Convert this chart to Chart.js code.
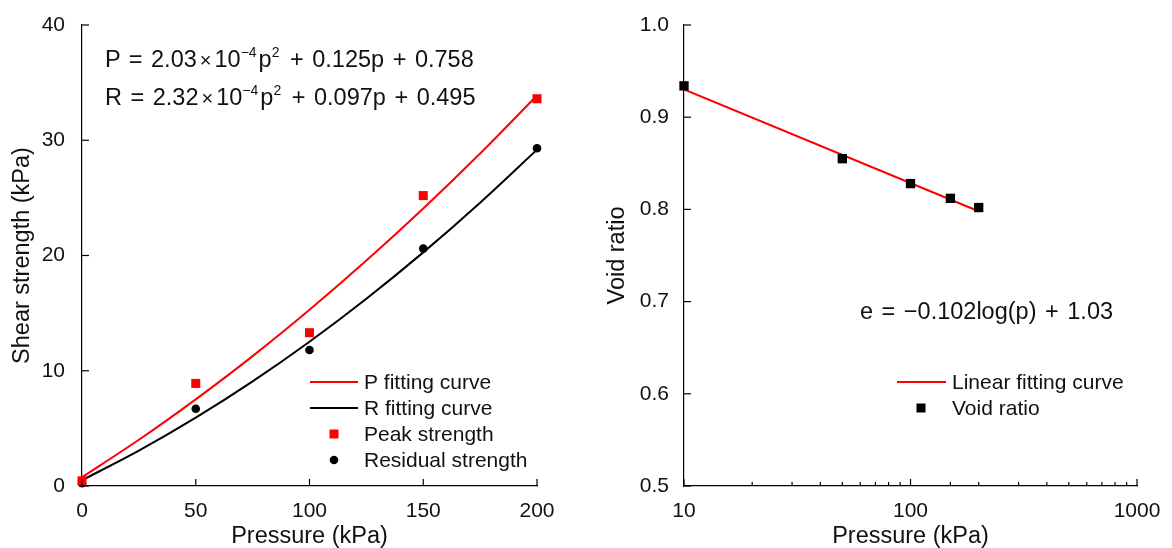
<!DOCTYPE html>
<html lang="en">
<head>
<meta charset="UTF-8">
<title>Shear strength and void ratio</title>
<script src="https://cdn.jsdelivr.net/npm/chart.js"></script>
<style>
    body {
        margin: 0;
        background: #fff;
        font-family: 'Liberation Sans', Arial, sans-serif;
        color: #000;
    }
    #wrap {
        position: relative;
        width: 1172px;
        height: 548px;
        overflow: hidden;
    }
    canvas { position: absolute; top: 0; }
    #leftChart { left: 0; }
    #rightChart { left: 580px; }
    .eq {
        position: absolute;
        font-size: 23.5px;
        line-height: 28px;
        white-space: nowrap;
        color: #111;
    }
    .eq .op { margin: 0 2px; }
    .eq .x { margin: 0 3px; font-size: 20px; }
    .eq sup { font-size: 14px; vertical-align: 10px; line-height: 0; margin-right: 2px; }
</style>
</head>
<body>
<div id="wrap">
    <canvas id="leftChart" width="580" height="548"></canvas>
    <canvas id="rightChart" width="592" height="548"></canvas>
    <div class="eq" style="left:105px; top:45px;">P <span class="op">=</span> 2.03<span class="x">&times;</span>10<sup>&minus;4</sup>p<sup>2</sup> <span class="op">+</span> 0.125p <span class="op">+</span> 0.758</div>
    <div class="eq" style="left:105px; top:83px;">R <span class="op">=</span> 2.32<span class="x">&times;</span>10<sup>&minus;4</sup>p<sup>2</sup> <span class="op">+</span> 0.097p <span class="op">+</span> 0.495</div>
    <div class="eq" style="left:860px; top:297px;">e <span class="op">=</span> &minus;0.102log(p) <span class="op">+</span> 1.03</div>
</div>
<script>
    // left panel: shear strength
    const pressure = [0, 50, 100, 150, 200];
    const peakStrength = [0.45, 8.9, 13.3, 25.2, 33.6];
    const residualStrength = [0.25, 6.7, 11.8, 20.6, 29.3];
    // fitting curves at 25 kPa steps
    const fitPressure = [0, 25, 50, 75, 100, 125, 150, 175, 200];
    const pFit = [0.76, 4.01, 7.52, 11.27, 15.29, 19.56, 24.08, 28.85, 33.88];
    const rFit = [0.50, 3.07, 5.93, 9.08, 12.52, 16.25, 20.27, 24.58, 29.18];
    const leftLegend = ['P fitting curve', 'R fitting curve', 'Peak strength', 'Residual strength'];

    // right panel: void ratio
    const voidPressure = [10, 50, 100, 150, 200];
    const voidRatio = [0.934, 0.855, 0.828, 0.812, 0.802];
    const linePressure = [10, 200];
    const lineVoid = [0.930, 0.798];
    const rightLegend = ['Linear fitting curve', 'Void ratio'];

    const FONT = "'Liberation Sans', Arial, sans-serif";
    const RED = '#ff0000';

    function pts(xs, ys) {
        return xs.map((x, i) => ({ x: x, y: ys[i] }));
    }

    // inward tick marks, drawn from the library's own tick positions
    const innerTicks = {
        id: 'innerTicks',
        afterDraw(chart) {
            const ctx = chart.ctx;
            const area = chart.chartArea;
            ctx.save();
            ctx.strokeStyle = '#000';
            ctx.lineWidth = 1.2;
            ['x', 'y'].forEach(id => {
                const s = chart.scales[id];
                s.ticks.forEach(t => {
                    const major = t.label !== '' && t.label !== undefined;
                    const len = major ? 7 : 4;
                    const p = s.getPixelForValue(t.value);
                    ctx.beginPath();
                    if (id === 'x') {
                        ctx.moveTo(p, area.bottom);
                        ctx.lineTo(p, area.bottom - len);
                    } else {
                        ctx.moveTo(area.left, p);
                        ctx.lineTo(area.left + len, p);
                    }
                    ctx.stroke();
                });
            });
            ctx.restore();
        }
    };

    function legendPlugin(items) {
        return {
            id: 'legendBox',
            afterDraw(chart) {
                const ctx = chart.ctx;
                ctx.save();
                ctx.font = '21px ' + FONT;
                ctx.textBaseline = 'middle';
                items.forEach(it => {
                    if (it.kind === 'line') {
                        ctx.strokeStyle = it.color;
                        ctx.lineWidth = 2;
                        ctx.beginPath();
                        ctx.moveTo(it.x0, it.y);
                        ctx.lineTo(it.x1, it.y);
                        ctx.stroke();
                    } else if (it.kind === 'rect') {
                        ctx.fillStyle = it.color;
                        ctx.fillRect(it.cx - 4.5, it.y - 4.5, 9, 9);
                    } else {
                        ctx.fillStyle = it.color;
                        ctx.beginPath();
                        ctx.arc(it.cx, it.y, 4.3, 0, Math.PI * 2);
                        ctx.fill();
                    }
                    ctx.fillStyle = '#111';
                    ctx.fillText(it.text, it.tx, it.y + 1);
                });
                ctx.restore();
            }
        };
    }

    const tickFont = { family: FONT, size: 21 };
    const titleFont = { family: FONT, size: 23.5 };

    new Chart(document.getElementById('leftChart'), {
        type: 'scatter',
        data: {
            datasets: [
                { label: leftLegend[2], data: pts(pressure, peakStrength), pointStyle: 'rect',
                  pointRadius: 6.4, backgroundColor: RED, borderWidth: 0, order: 0, clip: false },
                { label: leftLegend[3], data: pts(pressure, residualStrength), pointStyle: 'circle',
                  pointRadius: 4.3, backgroundColor: '#000', borderWidth: 0, order: 0, clip: false },
                { label: leftLegend[0], type: 'line', data: pts(fitPressure, pFit), borderColor: RED,
                  borderWidth: 2, pointRadius: 0, cubicInterpolationMode: 'monotone', order: 1 },
                { label: leftLegend[1], type: 'line', data: pts(fitPressure, rFit), borderColor: '#000',
                  borderWidth: 2, pointRadius: 0, cubicInterpolationMode: 'monotone', order: 1 }
            ]
        },
        options: {
            responsive: false,
            animation: false,
            layout: { padding: { top: 25, right: 43, left: 0, bottom: 0 } },
            plugins: { legend: { display: false }, tooltip: { enabled: false } },
            scales: {
                x: {
                    type: 'linear', min: 0, max: 200,
                    ticks: { stepSize: 50, font: tickFont, color: '#111', padding: 5 },
                    grid: { display: false },
                    border: { color: '#000', width: 1.2 },
                    title: { display: true, text: 'Pressure (kPa)', font: titleFont, color: '#111',
                             padding: { top: 0, bottom: -3 } },
                    afterFit: s => { s.height = 62; }
                },
                y: {
                    min: 0, max: 40,
                    ticks: { stepSize: 10, font: tickFont, color: '#111', padding: 9 },
                    grid: { display: false },
                    border: { color: '#000', width: 1.2 },
                    title: { display: true, text: 'Shear strength (kPa)', font: titleFont, color: '#111',
                             padding: { top: 8, bottom: 0 } },
                    afterFit: s => { s.width = 82; }
                }
            }
        },
        plugins: [innerTicks, legendPlugin([
            { kind: 'line', color: RED, x0: 310, x1: 358, y: 382, tx: 364, text: leftLegend[0] },
            { kind: 'line', color: '#000', x0: 310, x1: 358, y: 408, tx: 364, text: leftLegend[1] },
            { kind: 'rect', color: RED, cx: 334, y: 434, tx: 364, text: leftLegend[2] },
            { kind: 'circle', color: '#000', cx: 334, y: 460, tx: 364, text: leftLegend[3] }
        ])]
    });

    new Chart(document.getElementById('rightChart'), {
        type: 'scatter',
        data: {
            datasets: [
                { label: rightLegend[1], data: pts(voidPressure, voidRatio), pointStyle: 'rect',
                  pointRadius: 6.6, backgroundColor: '#000', borderWidth: 0, order: 0, clip: false },
                { label: rightLegend[0], type: 'line', data: pts(linePressure, lineVoid), borderColor: RED,
                  borderWidth: 2, pointRadius: 0, order: 1 }
            ]
        },
        options: {
            responsive: false,
            animation: false,
            layout: { padding: { top: 25, right: 35, left: 0, bottom: 0 } },
            plugins: { legend: { display: false }, tooltip: { enabled: false } },
            scales: {
                x: {
                    type: 'logarithmic', min: 10, max: 1000,
                    ticks: {
                        font: tickFont, color: '#111', padding: 5, autoSkip: false, maxRotation: 0,
                        callback: v => ([10, 100, 1000].includes(v) ? String(v) : '')
                    },
                    grid: { display: false },
                    border: { color: '#000', width: 1.2 },
                    title: { display: true, text: 'Pressure (kPa)', font: titleFont, color: '#111',
                             padding: { top: 0, bottom: -3 } },
                    afterFit: s => { s.height = 62; }
                },
                y: {
                    min: 0.5, max: 1.0,
                    ticks: { stepSize: 0.1, font: tickFont, color: '#111', padding: 7,
                             callback: v => Number(v).toFixed(1) },
                    grid: { display: false },
                    border: { color: '#000', width: 1.2 },
                    title: { display: true, text: 'Void ratio', font: titleFont, color: '#111',
                             padding: { top: 23, bottom: 0 } },
                    afterFit: s => { s.width = 104; }
                }
            }
        },
        plugins: [innerTicks, legendPlugin([
            { kind: 'line', color: RED, x0: 317, x1: 366, y: 382, tx: 372, text: rightLegend[0] },
            { kind: 'rect', color: '#000', cx: 341, y: 408, tx: 372, text: rightLegend[1] }
        ])]
    });
</script>
</body>
</html>
